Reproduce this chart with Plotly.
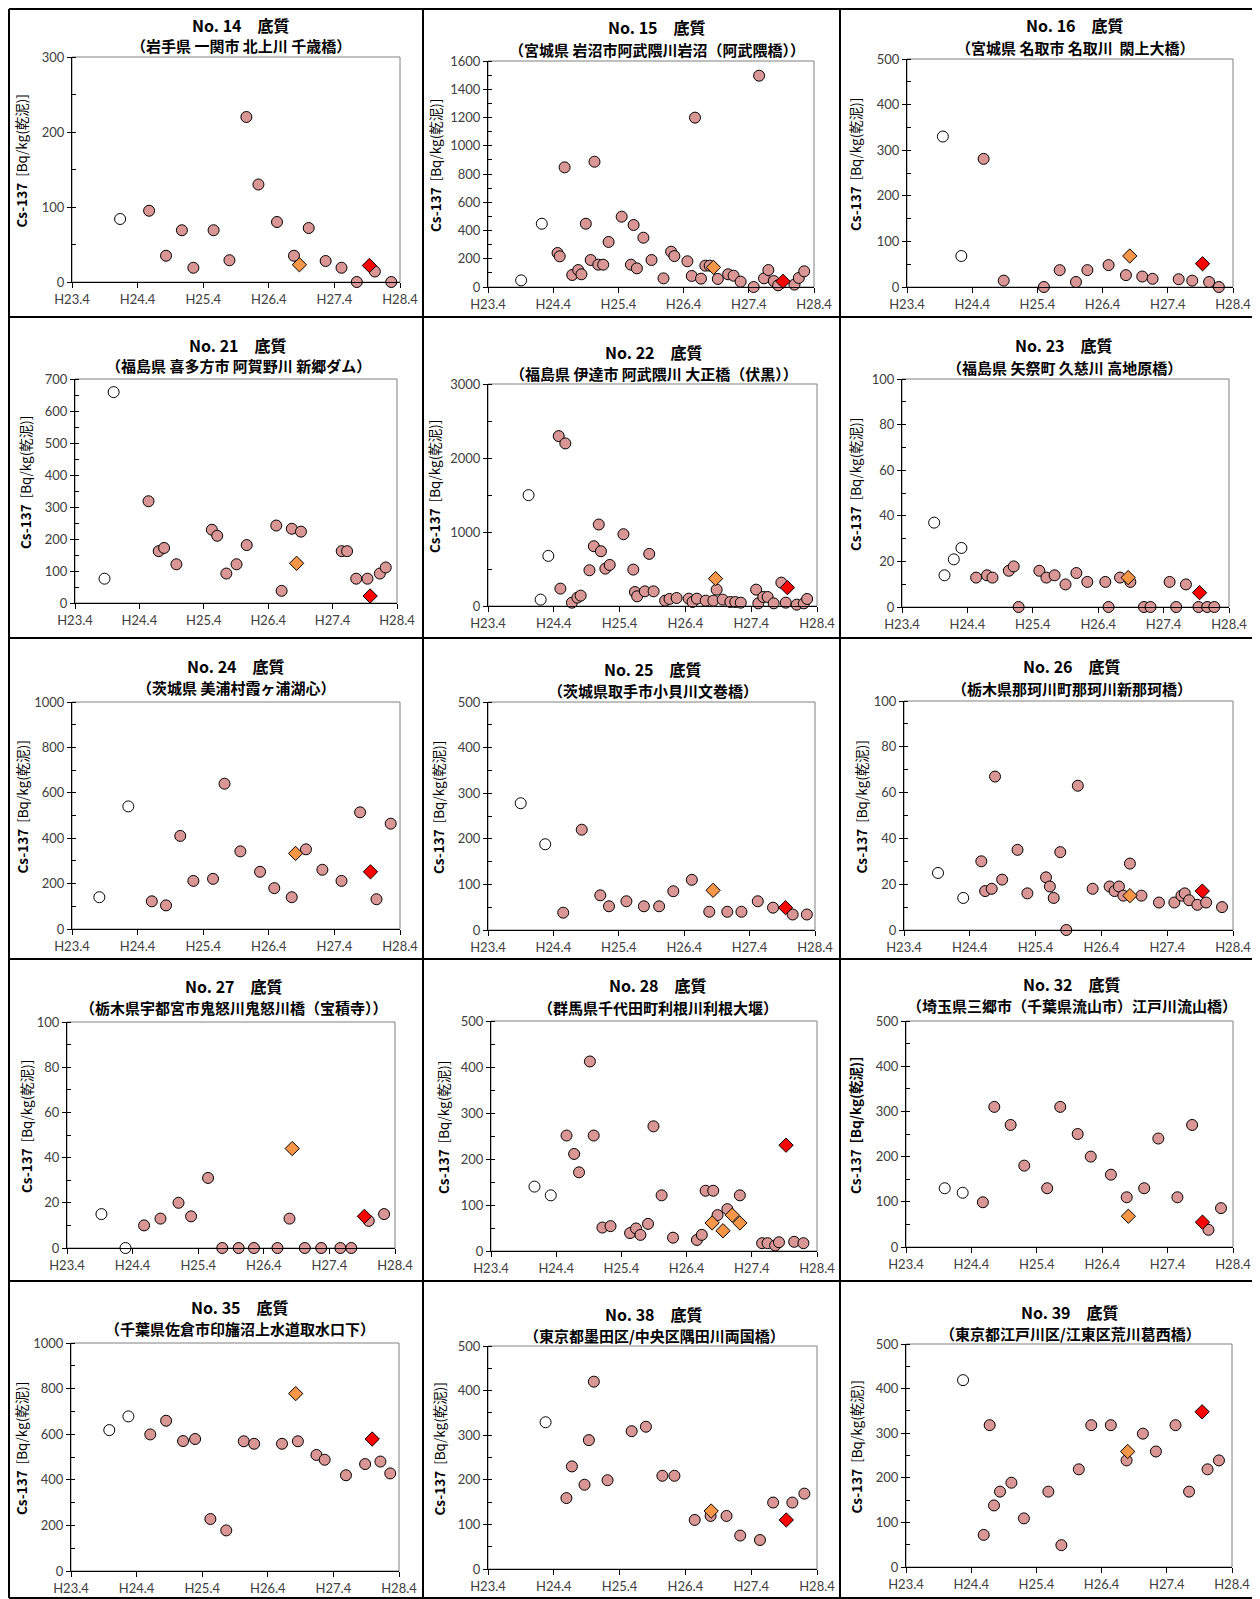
import plotly.graph_objects as go

# ---------------- data (x = months elapsed since H23.4) ----------------
X_TICK_VALS = [0, 12, 24, 36, 48, 60]
X_TICK_TEXT = ["H23.4", "H24.4", "H25.4", "H26.4", "H27.4", "H28.4"]

TITLES = ["No. 14　底質", "No. 15　底質", "No. 16　底質",
          "No. 21　底質", "No. 22　底質", "No. 23　底質",
          "No. 24　底質", "No. 25　底質", "No. 26　底質",
          "No. 27　底質", "No. 28　底質", "No. 32　底質",
          "No. 35　底質", "No. 38　底質", "No. 39　底質"]
SUBTITLES = ["（岩手県 一関市 北上川 千歳橋）",
             "（宮城県 岩沼市阿武隈川岩沼（阿武隈橋））",
             "（宮城県 名取市 名取川  閖上大橋）",
             "（福島県 喜多方市 阿賀野川 新郷ダム）",
             "（福島県 伊達市 阿武隈川 大正橋（伏黒））",
             "（福島県 矢祭町 久慈川 高地原橋）",
             "（茨城県 美浦村霞ヶ浦湖心）",
             "（茨城県取手市小貝川文巻橋）",
             "（栃木県那珂川町那珂川新那珂橋）",
             "（栃木県宇都宮市鬼怒川鬼怒川橋（宝積寺））",
             "（群馬県千代田町利根川利根大堰）",
             "（埼玉県三郷市（千葉県流山市）江戸川流山橋）",
             "（千葉県佐倉市印旛沼上水道取水口下）",
             "（東京都墨田区/中央区隅田川両国橋）",
             "（東京都江戸川区/江東区荒川葛西橋）"]
Y_MAX = [300, 1600, 500, 700, 3000, 100, 1000, 500, 100, 100, 500, 500, 1000, 500, 500]
Y_DTICK = [100, 200, 100, 100, 1000, 20, 200, 100, 20, 20, 100, 100, 200, 100, 100]

# No.14
P14_WX = [8.8]; P14_WY = [84]
P14_PX = [14.1, 17.2, 20.1, 22.2, 25.9, 28.8, 31.9, 34.1, 37.5, 40.6, 43.3, 46.4, 49.3, 52.1, 55.4, 58.4]
P14_PY = [95, 35, 69, 19, 69, 29, 220, 130, 80, 35, 72, 28, 19, 0, 14, 0]
P14_OX = [41.6]; P14_OY = [23]
P14_RX = [54.4]; P14_RY = [22]
# No.15
P15_WX = [6.1, 9.9]; P15_WY = [47, 448]
P15_PX = [12.8, 13.2, 14.1, 15.5, 16.6, 17.2, 18.0, 18.9, 19.6, 20.3, 21.2, 22.2, 24.6, 26.3, 26.8, 27.4, 28.6,
          30.1, 32.3, 33.7, 34.3, 36.7, 37.5, 38.1, 39.2, 40.0, 40.8, 42.3, 44.2, 45.2, 46.5, 48.9, 49.9, 50.8,
          51.6, 52.6, 53.4, 56.4, 57.2, 58.2]
P15_PY = [241, 217, 847, 85, 120, 90, 448, 191, 887, 158, 158, 319, 498, 158, 439, 132, 349,
          191, 61, 250, 219, 182, 78, 1199, 59, 151, 151, 57, 90, 80, 38, 0, 1496, 61,
          120, 42, 12, 17, 64, 111]
P15_OX = [41.5]; P15_OY = [139]
P15_RX = [54.3]; P15_RY = [40]
# No.16
P16_WX = [6.6, 10.0]; P16_WY = [330, 68]
P16_PX = [14.1, 17.8, 25.2, 28.1, 31.1, 33.2, 37.1, 40.3, 43.3, 45.2, 50.0, 52.5, 55.6, 57.4]
P16_PY = [281, 14, 0, 37, 11, 37, 48, 26, 23, 18, 17, 14, 11, 0]
P16_OX = [41.0]; P16_OY = [68]
P16_RX = [54.4]; P16_RY = [51]
# No.21
P21_WX = [5.5, 7.2]; P21_WY = [76, 659]
P21_PX = [13.7, 15.6, 16.6, 18.9, 25.5, 26.5, 28.2, 30.1, 32.0, 37.5, 38.5, 40.4, 42.1, 49.7, 50.7, 52.4, 54.5, 56.8, 57.9]
P21_PY = [318, 162, 172, 121, 229, 210, 92, 121, 181, 242, 38, 232, 223, 162, 162, 76, 76, 92, 111]
P21_OX = [41.3]; P21_OY = [124]
P21_RX = [55.0]; P21_RY = [22]
# No.22
P22_WX = [7.4, 9.6, 11.0]; P22_WY = [1498, 86, 677]
P22_PX = [12.9, 14.1, 13.2, 15.3, 16.3, 16.9, 18.5, 19.3, 20.2, 20.6, 21.4, 22.2, 24.7, 26.5, 26.8, 27.2, 28.6,
          29.4, 30.2, 32.3, 33.1, 34.4, 36.6, 37.3, 38.1, 39.7, 41.1, 41.7, 42.8, 44.2, 45.1, 46.1, 48.9, 49.3,
          50.2, 51.0, 52.1, 53.5, 54.3, 56.3, 57.6, 58.2]
P22_PY = [2296, 2197, 235, 45, 113, 140, 483, 808, 1101, 740, 505, 555, 970, 492, 189, 131, 198,
          704, 198, 72, 95, 108, 99, 54, 99, 72, 72, 221, 86, 54, 54, 45, 221, 36,
          122, 122, 36, 316, 45, 18, 36, 95]
P22_OX = [41.5]; P22_OY = [370]
P22_RX = [54.6]; P22_RY = [248]
# No.23
P23_WX = [5.9, 7.8, 9.5, 10.9]; P23_WY = [37, 13.9, 20.9, 25.9]
P23_PX = [13.6, 15.6, 16.6, 19.6, 20.5, 21.4, 25.2, 26.5, 28.0, 30.0, 32.0, 34.0, 37.3, 37.9, 40.0, 41.9,
          44.4, 45.6, 49.1, 50.3, 52.1, 54.4, 56.0, 57.3]
P23_PY = [12.9, 13.9, 12.9, 15.9, 17.8, 0, 15.9, 12.9, 13.9, 9.9, 14.9, 11, 11, 0, 12.9, 11,
          0, 0, 11, 0, 9.9, 0, 0, 0]
P23_OX = [41.5]; P23_OY = [12.9]
P23_RX = [54.6]; P23_RY = [6.3]
# No.24
P24_WX = [5.0, 10.3]; P24_WY = [140, 540]
P24_PX = [14.6, 17.2, 19.8, 22.2, 25.8, 27.9, 30.8, 34.4, 37.0, 40.2, 42.8, 45.8, 49.3, 52.7, 55.7, 58.3]
P24_PY = [122, 104, 410, 212, 221, 640, 342, 252, 180, 140, 351, 261, 212, 514, 131, 464]
P24_OX = [40.9]; P24_OY = [333]
P24_RX = [54.6]; P24_RY = [252]
# No.25
P25_WX = [6.0, 10.5]; P25_WY = [278, 188]
P25_PX = [13.8, 17.2, 20.6, 22.2, 25.4, 28.6, 31.4, 34.0, 37.4, 40.6, 43.9, 46.5, 49.5, 52.3, 55.9, 58.5]
P25_PY = [38, 220, 76, 52, 63, 52, 52, 85, 110, 40, 40, 40, 63, 49, 34, 34]
P25_OX = [41.3]; P25_OY = [87]
P25_RX = [54.6]; P25_RY = [49]
# No.26
P26_WX = [6.2, 10.8]; P26_WY = [24.9, 14.0]
P26_PX = [14.1, 14.8, 16.6, 16.0, 17.9, 20.7, 22.5, 25.9, 26.6, 27.3, 28.5, 29.6, 31.7, 34.4, 37.5, 38.4,
          39.2, 40.0, 41.2, 43.3, 46.5, 49.3, 50.6, 51.2, 52.0, 53.5, 55.1, 58.0]
P26_PY = [30, 17, 67, 18, 22, 35, 16, 23, 19, 14, 34, 0, 63, 18, 19, 17,
          19, 15, 29, 15, 12, 12, 15, 16, 13, 11, 12, 10]
P26_OX = [41.2]; P26_OY = [15]
P26_RX = [54.4]; P26_RY = [17]
# No.27
P27_WX = [6.3, 10.7]; P27_WY = [15, 0]
P27_PX = [14.1, 17.1, 20.4, 22.7, 25.8, 28.4, 31.4, 34.2, 38.5, 40.7, 43.5, 46.5, 50.0, 52.0, 55.2, 58.0]
P27_PY = [10, 13, 20, 14, 31, 0, 0, 0, 0, 13, 0, 0, 0, 0, 12, 15]
P27_OX = [41.2]; P27_OY = [44]
P27_RX = [54.4]; P27_RY = [14]
# No.28
P28_WX = [8.0, 11.0]; P28_WY = [140, 121]
P28_PX = [13.9, 15.3, 16.2, 18.2, 18.9, 20.5, 22.0, 25.6, 26.7, 27.5, 28.9, 29.9, 31.4, 33.5, 37.9, 38.8,
          39.5, 40.9, 41.7, 43.5, 45.8, 49.9, 50.9, 52.3, 53.0, 55.8, 57.5]
P28_PY = [251, 211, 171, 412, 251, 51, 54, 39, 49, 35, 59, 271, 121, 29, 24, 35,
          131, 131, 78, 91, 121, 17, 17, 12, 19, 20, 17]
P28_OX = [40.7, 42.7, 44.4, 45.8]; P28_OY = [61, 44, 78, 61]
P28_RX = [54.3]; P28_RY = [230]
# No.32
P32_WX = [7.1, 10.4]; P32_WY = [130, 120]
P32_PX = [14.1, 16.2, 19.2, 21.7, 25.9, 28.3, 31.5, 33.9, 37.6, 40.5, 43.7, 46.3, 49.8, 52.5, 55.5, 57.8]
P32_PY = [99, 310, 270, 180, 130, 310, 250, 200, 160, 110, 130, 240, 110, 270, 38, 86]
P32_OX = [40.8]; P32_OY = [68]
P32_RX = [54.4]; P32_RY = [55]
# No.35
P35_WX = [7.0, 10.5]; P35_WY = [618, 678]
P35_PX = [14.5, 17.4, 20.5, 22.7, 25.5, 28.4, 31.6, 33.5, 38.6, 41.5, 44.9, 46.4, 50.3, 53.8, 56.6, 58.4]
P35_PY = [599, 659, 570, 579, 228, 178, 569, 558, 558, 569, 509, 488, 420, 469, 480, 428]
P35_OX = [41.1]; P35_OY = [778]
P35_RX = [55.1]; P35_RY = [579]
# No.38
P38_WX = [10.5]; P38_WY = [329]
P38_PX = [14.3, 15.3, 17.6, 18.4, 19.3, 21.8, 26.2, 28.8, 31.8, 34.0, 37.7, 40.6, 43.5, 46.0, 49.6, 52.0, 55.5, 57.7]
P38_PY = [159, 230, 189, 289, 420, 199, 309, 319, 209, 209, 110, 119, 119, 75, 65, 149, 149, 169]
P38_OX = [40.7]; P38_OY = [130]
P38_RX = [54.4]; P38_RY = [110]
# No.39
P39_WX = [10.5]; P39_WY = [419]
P39_PX = [14.3, 15.4, 16.2, 17.3, 19.4, 21.7, 26.2, 28.6, 31.8, 34.1, 37.7, 40.6, 43.6, 46.0, 49.6, 52.1, 55.5, 57.6]
P39_PY = [72, 318, 138, 169, 189, 109, 169, 49, 219, 318, 318, 239, 299, 259, 318, 169, 219, 239]
P39_OX = [40.8]; P39_OY = [259]
P39_RX = [54.5]; P39_RY = [348]

SERIES = [
    (P14_WX, P14_WY, P14_PX, P14_PY, P14_OX, P14_OY, P14_RX, P14_RY),
    (P15_WX, P15_WY, P15_PX, P15_PY, P15_OX, P15_OY, P15_RX, P15_RY),
    (P16_WX, P16_WY, P16_PX, P16_PY, P16_OX, P16_OY, P16_RX, P16_RY),
    (P21_WX, P21_WY, P21_PX, P21_PY, P21_OX, P21_OY, P21_RX, P21_RY),
    (P22_WX, P22_WY, P22_PX, P22_PY, P22_OX, P22_OY, P22_RX, P22_RY),
    (P23_WX, P23_WY, P23_PX, P23_PY, P23_OX, P23_OY, P23_RX, P23_RY),
    (P24_WX, P24_WY, P24_PX, P24_PY, P24_OX, P24_OY, P24_RX, P24_RY),
    (P25_WX, P25_WY, P25_PX, P25_PY, P25_OX, P25_OY, P25_RX, P25_RY),
    (P26_WX, P26_WY, P26_PX, P26_PY, P26_OX, P26_OY, P26_RX, P26_RY),
    (P27_WX, P27_WY, P27_PX, P27_PY, P27_OX, P27_OY, P27_RX, P27_RY),
    (P28_WX, P28_WY, P28_PX, P28_PY, P28_OX, P28_OY, P28_RX, P28_RY),
    (P32_WX, P32_WY, P32_PX, P32_PY, P32_OX, P32_OY, P32_RX, P32_RY),
    (P35_WX, P35_WY, P35_PX, P35_PY, P35_OX, P35_OY, P35_RX, P35_RY),
    (P38_WX, P38_WY, P38_PX, P38_PY, P38_OX, P38_OY, P38_RX, P38_RY),
    (P39_WX, P39_WY, P39_PX, P39_PY, P39_OX, P39_OY, P39_RX, P39_RY),
]

# ---------------- layout ----------------
# Page pixel positions (as measured on the 1260x1599 page); the figure div sits
# 8 px in from the page corner (browser body margin), so it is sized to end at the page edge.
PAGE_OFF = 8
W, H = 1260 - PAGE_OFF, 1599 - PAGE_OFF
BOXES = [  # left, right, top, bottom of each plot area
    (72, 400, 57, 282), (488, 814, 61, 287), (907, 1233, 59, 287),
    (75, 397, 379, 603), (488, 817, 384, 606), (902, 1229, 379, 607),
    (72, 400, 702, 929), (488, 815, 702, 930), (904, 1233, 701, 930),
    (67, 395, 1022, 1248), (491, 817, 1021, 1251), (906, 1233, 1021, 1247),
    (71, 399, 1343, 1571), (488, 817, 1346, 1569), (906, 1232, 1344, 1567),
]
# distance of the rotated y-axis label centre left of the plot area
YLAB_DX = [51, 53, 52, 50, 54, 47, 51, 50, 44, 41, 48, 51, 50, 50, 51]
# title centre x, title y, subtitle y
TITLE_POS = [
    (241, 25, 46), (657, 27, 49), (1075, 25, 47),
    (238, 345, 366), (654, 352, 373), (1064, 345, 367),
    (236, 666, 687), (653, 669, 690), (1072, 666, 688),
    (234, 986, 1008), (658, 985, 1007), (1072, 984, 1006),
    (240, 1307, 1328), (654, 1314, 1335), (1070, 1312, 1333),
]
CELL_X = [9, 423, 840, 1253]
CELL_Y = [9, 317, 638, 959, 1281, 1598]

PINK = "#D99694"
ORANGE = "#F79646"
RED = "#FF0000"
TICK_FONT = dict(family="Lato, Open Sans, sans-serif", size=13, color="#404040")
JP_FONT = "Noto Sans CJK JP"

fig = go.Figure()
layout = dict(width=W, height=H, autosize=False,
              margin=dict(l=0, r=0, t=0, b=0, pad=0, autoexpand=False),
              paper_bgcolor="white", plot_bgcolor="white", showlegend=False, template="none")
annotations = []
shapes = []


def px_x(p):
    return (p - PAGE_OFF) / W


def px_y(p):
    return 1 - (p - PAGE_OFF) / H


for i, (box, ser) in enumerate(zip(BOXES, SERIES)):
    n = i + 1
    xa = "x" if n == 1 else f"x{n}"
    ya = "y" if n == 1 else f"y{n}"
    L, R, T, B = box
    wx, wy, px_, py_, ox, oy, rx, ry = ser
    common = dict(xaxis=xa, yaxis=ya, mode="markers", cliponaxis=False, hoverinfo="x+y")
    fig.add_trace(go.Scatter(x=wx, y=wy, marker=dict(symbol="circle", size=11, color="white",
                                                      line=dict(color="black", width=1)), **common))
    fig.add_trace(go.Scatter(x=px_, y=py_, marker=dict(symbol="circle", size=11, color=PINK,
                                                        line=dict(color="black", width=1)), **common))
    fig.add_trace(go.Scatter(x=ox, y=oy, marker=dict(symbol="diamond", size=11, color=ORANGE,
                                                      line=dict(color="black", width=1)), **common))
    fig.add_trace(go.Scatter(x=rx, y=ry, marker=dict(symbol="diamond", size=11, color=RED,
                                                      line=dict(color="black", width=1)), **common))

    key_x = "xaxis" if n == 1 else f"xaxis{n}"
    key_y = "yaxis" if n == 1 else f"yaxis{n}"
    layout[key_x] = dict(domain=[px_x(L), px_x(R)], range=[0, 60], anchor=ya, automargin=False,
                         tickmode="array", tickvals=X_TICK_VALS, ticktext=X_TICK_TEXT,
                         ticks="outside", ticklen=5, tickcolor="black", tickwidth=1,
                         showline=True, linecolor="black", linewidth=1,
                         showgrid=False, zeroline=False, tickfont=TICK_FONT, fixedrange=True)
    layout[key_y] = dict(domain=[px_y(B), px_y(T)], range=[0, Y_MAX[i]], anchor=xa, automargin=False,
                         tick0=0, dtick=Y_DTICK[i], ticks="outside", ticklen=4,
                         tickcolor="black", tickwidth=1,
                         minor=dict(ticks="inside", ticklen=4, dtick=Y_DTICK[i] / 2,
                                    tickcolor="black", tickwidth=1, showgrid=False),
                         showline=True, linecolor="black", linewidth=1,
                         showgrid=False, zeroline=False, tickfont=TICK_FONT, fixedrange=True)
    # light frame top/right
    shapes.append(dict(type="rect", xref="paper", yref="paper", x0=px_x(L), x1=px_x(R),
                       y0=px_y(B), y1=px_y(T), line=dict(color="#808080", width=1),
                       layer="below"))
    tx, ty, sy = TITLE_POS[i]
    annotations.append(dict(xref="paper", yref="paper", x=px_x(tx), y=px_y(ty),
                            text=f"<b>{TITLES[i]}</b>", showarrow=False,
                            xanchor="center", yanchor="middle",
                            font=dict(family=JP_FONT, size=16, color="black")))
    annotations.append(dict(xref="paper", yref="paper", x=px_x(tx), y=px_y(sy),
                            text=f"<b>{SUBTITLES[i]}</b>", showarrow=False,
                            xanchor="center", yanchor="middle",
                            font=dict(family=JP_FONT, size=15, color="black")))
    ylab = "<b>Cs-137</b>  [Bq/kg(乾泥)]"
    if TITLES[i].startswith("No. 32"):
        ylab = "<b>Cs-137  [Bq/kg(乾泥)]</b>"
    annotations.append(dict(xref="paper", yref="paper", x=px_x(L - YLAB_DX[i]), y=px_y((T + B) / 2 - 8),
                            text=ylab, showarrow=False, textangle=-90,
                            xanchor="center", yanchor="middle",
                            font=dict(family=JP_FONT, size=13.5, color="black")))

# cell borders
for cx in CELL_X:
    shapes.append(dict(type="line", xref="paper", yref="paper", x0=px_x(cx), x1=px_x(cx),
                       y0=px_y(CELL_Y[0]), y1=px_y(CELL_Y[-1]), line=dict(color="black", width=2)))
for cy in CELL_Y:
    shapes.append(dict(type="line", xref="paper", yref="paper", x0=px_x(CELL_X[0]), x1=px_x(CELL_X[-1]),
                       y0=px_y(cy), y1=px_y(cy), line=dict(color="black", width=2)))

layout["annotations"] = annotations
layout["shapes"] = shapes
fig.update_layout(**layout)
fig.write_html("out.html")
